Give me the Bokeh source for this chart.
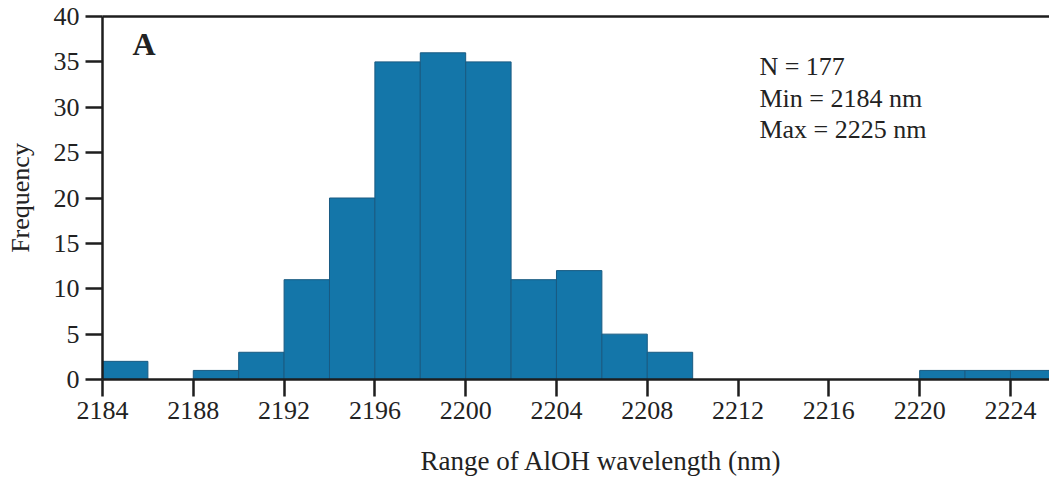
from bokeh.plotting import figure
from bokeh.models import LinearAxis, FixedTicker, Range1d, Label, Title
from bokeh.embed import file_html
from bokeh.resources import INLINE

bin_left = [2184, 2186, 2188, 2190, 2192, 2194, 2196, 2198, 2200, 2202, 2204,
            2206, 2208, 2210, 2212, 2214, 2216, 2218, 2220, 2222, 2224]
counts = [2, 0, 1, 3, 11, 20, 35, 36, 35, 11, 12, 5, 3, 0, 0, 0, 0, 0, 1, 1, 1]
bin_width = 2
x_ticks = [2184, 2188, 2192, 2196, 2200, 2204, 2208, 2212, 2216, 2220, 2224]
y_ticks = [0, 5, 10, 15, 20, 25, 30, 35, 40]
stats = ["N = 177", "Min = 2184 nm", "Max = 2225 nm"]
panel = "A"
x_title = "Range of AlOH wavelength (nm)"
y_title = "Frequency"

FONT = "Liberation Serif"
AX = "#1e1e1e"

p = figure(width=1049, height=479, output_backend="svg", toolbar_location=None,
           x_range=Range1d(2184, 2225.72), y_range=Range1d(0, 40),
           min_border_left=102, min_border_right=0, min_border_top=16,
           min_border_bottom=100)
p.outline_line_color = None
p.grid.visible = False
p.background_fill_color = "white"
p.border_fill_color = "white"

bl = [b for b, c in zip(bin_left, counts) if c > 0]
br = [b + bin_width for b, c in zip(bin_left, counts) if c > 0]
bt = [c for c in counts if c > 0]
p.quad(left=bl, right=br, top=bt, bottom=0, fill_color="#1476a9",
       line_color="#195b82", line_width=1)

for ax in (p.xaxis[0], p.yaxis[0]):
    ax.axis_line_color = AX
    ax.axis_line_width = 2.5
    ax.major_tick_line_color = AX
    ax.major_tick_line_width = 2.5
    ax.major_tick_in = 0
    ax.major_tick_out = 17
    ax.minor_tick_line_color = None
    ax.major_label_text_font = FONT
    ax.major_label_text_font_size = "26px"
    ax.major_label_text_color = "#222222"

p.xaxis[0].ticker = FixedTicker(ticks=x_ticks)
p.xaxis[0].major_label_standoff = 5
# blank spacer label to push the title panel further down
p.xaxis[0].axis_label = " "
p.xaxis[0].axis_label_text_font_size = "14px"
p.xaxis[0].axis_label_standoff = 1
p.xaxis[0].axis_label_text_alpha = 0

p.yaxis[0].ticker = FixedTicker(ticks=y_ticks)
p.yaxis[0].major_label_standoff = 6
p.yaxis[0].axis_label = y_title
p.yaxis[0].axis_label_text_font = FONT
p.yaxis[0].axis_label_text_font_size = "26px"
p.yaxis[0].axis_label_text_font_style = "normal"
p.yaxis[0].axis_label_text_color = "#222222"
p.yaxis[0].axis_label_standoff = 16

top = LinearAxis(major_tick_line_color=None, minor_tick_line_color=None,
                 major_label_text_font_size="0px", major_label_standoff=0,
                 major_tick_out=0, major_tick_in=0,
                 axis_line_color=AX, axis_line_width=2.5)
top.ticker = FixedTicker(ticks=[])
p.add_layout(top, "above")

p.add_layout(Title(text=x_title, align="left", offset=318, text_font=FONT,
                   text_font_size="27px", text_font_style="normal",
                   text_color="#222222", standoff=4), "below")
p.add_layout(Label(x=2185.32, y=36.95, text=panel, text_font=FONT,
                   text_font_size="32px", text_font_style="bold",
                   text_color="#222222", text_baseline="alphabetic"))
for s, yy in zip(stats, [34.5, 30.97, 27.56]):
    p.add_layout(Label(x=2212.94, y=yy, text=s, text_font=FONT,
                       text_font_size="26px", text_color="#222222",
                       text_baseline="alphabetic"))

open("out.html", "w").write(file_html(p, INLINE))
